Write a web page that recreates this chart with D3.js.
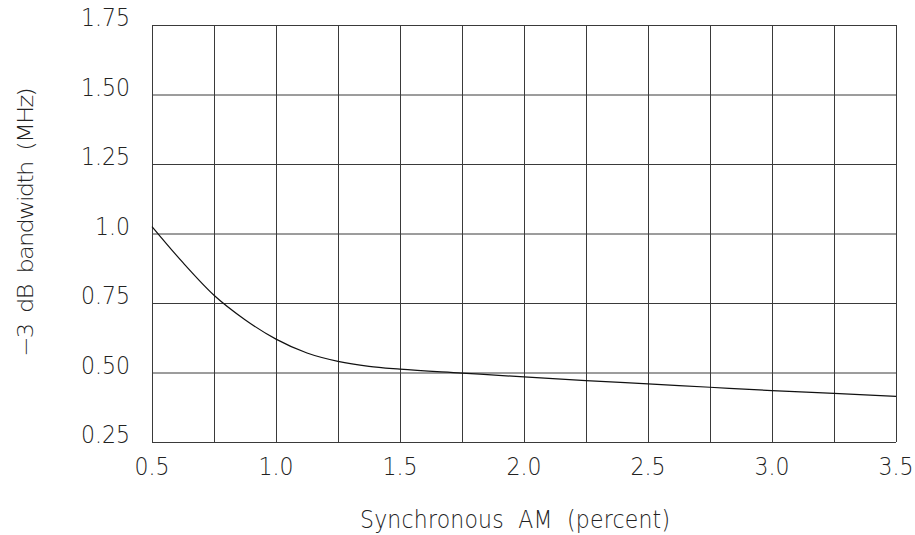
<!DOCTYPE html>
<html>
    <head>
        <style>
            body { margin: 0; background: #fff; }
            .lbl {
                font-family: "DejaVu Sans", sans-serif;
                font-weight: 200;
                font-size: 22px;
                fill: #222;
                white-space: pre;
            }
            .grid path { stroke-width: 0; }
            .grid .tick line { stroke: #3a3a3a; stroke-width: 1; }
        </style>
    </head>
    <body>
        <svg width="915" height="535"></svg>
        <script src="https://d3js.org/d3.v7.min.js"></script>
        <script>

        // curve
        var amPercent = [0.5, 0.625, 0.75, 0.875, 1.0, 1.125, 1.25, 1.375, 1.5, 1.75, 2.0, 2.25, 2.5, 2.75, 3.0, 3.25, 3.5];
        var bandwidth = [1.025, 0.895, 0.778, 0.69, 0.62, 0.57, 0.54, 0.522, 0.512, 0.498, 0.484, 0.471, 0.459, 0.447, 0.435, 0.425, 0.414];

        var xGridTicks = [0.5, 0.75, 1.0, 1.25, 1.5, 1.75, 2.0, 2.25, 2.5, 2.75, 3.0, 3.25, 3.5];
        var xLabelTicks = [0.5, 1.0, 1.5, 2.0, 2.5, 3.0, 3.5];
        var xLabels = ["0.5", "1.0", "1.5", "2.0", "2.5", "3.0", "3.5"];
        var yTicks = [0.25, 0.5, 0.75, 1.0, 1.25, 1.5, 1.75];
        var yLabels = ["0.25", "0.50", "0.75", "1.0", "1.25", "1.50", "1.75"];

        var svg = d3.select("svg"),
            margin = {top: 25, right: 19, bottom: 93, left: 152},
            width = +svg.attr("width") - margin.left - margin.right,
            height = +svg.attr("height") - margin.top - margin.bottom,
            g = svg.append("g").attr("transform", "translate(" + margin.left + "," + margin.top + ")");

        var x = d3.scaleLinear().domain([0.5, 3.5]).range([0, width]);
        var y = d3.scaleLinear().domain([0.25, 1.75]).range([height, 0]);

        // the plotter font is taller than dejavu, stretch a bit
        var stretch = " scale(1,1.1)";

        // grid
        g.append("g")
            .attr("class", "grid")
            .call(d3.axisBottom(x).tickValues(xGridTicks).tickSize(height).tickFormat(""));
        g.append("g")
            .attr("class", "grid")
            .call(d3.axisLeft(y).tickValues(yTicks).tickSize(-width).tickFormat(""));

        // tick labels
        g.selectAll(".xlab")
            .data(xLabelTicks)
            .enter().append("text")
            .attr("class", "lbl")
            .attr("transform", d => "translate(" + x(d) + "," + (height + 33) + ")" + stretch)
            .attr("text-anchor", "middle")
            .text((d, i) => xLabels[i]);

        g.selectAll(".ylab")
            .data(yTicks)
            .enter().append("text")
            .attr("class", "lbl")
            .attr("transform", d => "translate(-22," + (y(d) + 1) + ")" + stretch)
            .attr("text-anchor", "end")
            .text((d, i) => yLabels[i]);

        // curve
        var line = d3.line()
            .x(d => x(d[0]))
            .y(d => y(d[1]))
            .curve(d3.curveMonotoneX);

        g.append("path")
            .datum(amPercent.map((v, i) => [v, bandwidth[i]]))
            .attr("fill", "none")
            .attr("stroke", "#111")
            .attr("stroke-width", 1.2)
            .attr("d", line);

        // axis titles
        svg.append("text")
            .attr("class", "lbl")
            .attr("transform", "translate(360,528)" + stretch)
            .attr("textLength", 310)
            .attr("lengthAdjust", "spacing")
            .text("Synchronous  AM  (percent)");

        svg.append("text")
            .attr("class", "lbl")
            .attr("transform", "translate(33,222) rotate(-90) scale(1.1,1)")
            .attr("text-anchor", "middle")
            .attr("textLength", 245)
            .attr("lengthAdjust", "spacing")
            .text("\u22123  dB  bandwidth  (MHz)");

        </script>
    </body>
</html>
